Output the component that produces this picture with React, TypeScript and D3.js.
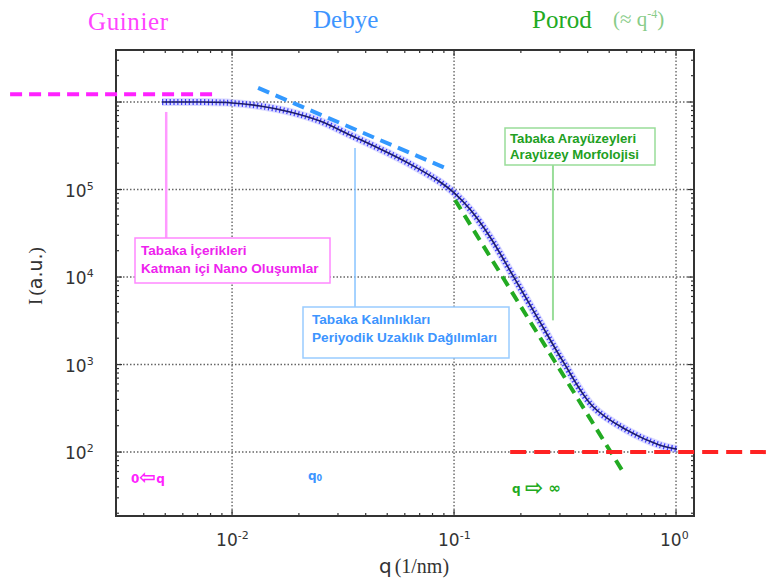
import React from "react";
import * as d3 from "d3";

// ---- data ----
const qData = [0.00484, 0.00717, 0.01, 0.01337, 0.01824, 0.0249, 0.034, 0.0465, 0.0634, 0.0865, 0.101, 0.118, 0.145, 0.1845, 0.244, 0.31, 0.423, 0.601, 0.847, 1.01];
const iData = [1.0e6, 1.0e6, 9.75e5, 9.0e5, 7.7e5, 6.06e5, 4.2e5, 2.9e5, 1.95e5, 1.22e5, 9.0e4, 5.94e4, 2.89e4, 1.03e4, 3.06e3, 1.08e3, 330, 178, 120, 108];

const qTicks = [0.01, 0.1, 1];
const qTickExp = ["-2", "-1", "0"];
const iTicks = [1e2, 1e3, 1e4, 1e5];
const iTickExp = ["2", "3", "4", "5"];
const iGrid = [1e2, 1e3, 1e4, 1e5, 1e6];

// reference lines [q0, I0, q1, I1]
const guinierLine = [0.001, 1.23e6, 0.00865, 1.23e6];
const debyeLine = [0.0131, 1.45e6, 0.0959, 1.67e5];
const porodLine = [0.101, 7.6e4, 0.589, 54.6];
const bgLine = [0.179, 100, 2.54, 100];

const W = 766, H = 581;
const L = 116, R = 694, T = 50, B = 516;

export default function App() {
  const x = d3.scaleLog().domain([0.003, 1.205]).range([L, R]);
  const y = d3.scaleLog().domain([18.6, 3.93e6]).range([B, T]);

  const pts = qData.map((q, i) => [x(q), y(iData[i])] as [number, number]);
  const line = d3.line().curve(d3.curveCatmullRom.alpha(0.5))(pts) || "";

  const xMinor: number[] = [];
  for (let e = -3; e <= 0; e++) for (let k = 1; k <= 9; k++) {
    const v = k * Math.pow(10, e);
    if (v >= 0.003 && v <= 1.205) xMinor.push(v);
  }
  const yMinor: number[] = [];
  for (let e = 1; e <= 6; e++) for (let k = 1; k <= 9; k++) {
    const v = k * Math.pow(10, e);
    if (v >= 18.6 && v <= 3.93e6) yMinor.push(v);
  }
  const isMajor = (v: number) => Math.abs(Math.log10(v) - Math.round(Math.log10(v))) < 1e-6;

  const seg = (a: number[]) => ({ x1: x(a[0]), y1: y(a[1]), x2: x(a[2]), y2: y(a[3]) });
  const axisCol = "#333";
  const sans = "'DejaVu Sans', sans-serif";
  const serif = "'Liberation Serif', 'DejaVu Serif', serif";
  const boxFont = "'Liberation Sans', Arial, sans-serif";

  return (
    <svg width={W} height={H} style={{ position: "absolute", left: 0, top: 0, background: "#fff" }}>
      {/* grid */}
      {qTicks.map((q) => (
        <line key={"gx" + q} x1={x(q)} x2={x(q)} y1={T} y2={B} stroke="#666" strokeWidth={1.4} strokeDasharray="1.5 2" />
      ))}
      {iGrid.map((v) => (
        <line key={"gy" + v} x1={L} x2={R} y1={y(v)} y2={y(v)} stroke="#666" strokeWidth={1.4} strokeDasharray="1.5 2" />
      ))}

      {/* ticks */}
      {xMinor.map((v) => {
        const len = isMajor(v) ? 6 : 3;
        return (
          <g key={"tx" + v}>
            <line x1={x(v)} x2={x(v)} y1={B} y2={B - len} stroke={axisCol} strokeWidth={1.2} />
            <line x1={x(v)} x2={x(v)} y1={T} y2={T + len} stroke={axisCol} strokeWidth={1.2} />
          </g>
        );
      })}
      {yMinor.map((v) => {
        const len = isMajor(v) ? 6 : 3;
        return (
          <g key={"ty" + v}>
            <line x1={L} x2={L + len} y1={y(v)} y2={y(v)} stroke={axisCol} strokeWidth={1.2} />
            <line x1={R} x2={R - len} y1={y(v)} y2={y(v)} stroke={axisCol} strokeWidth={1.2} />
          </g>
        );
      })}
      <rect x={L} y={T} width={R - L} height={B - T} fill="none" stroke={axisCol} strokeWidth={2} />

      {/* reference dashed lines */}
      <line {...seg(guinierLine)} stroke="#ff22ff" strokeWidth={4} strokeDasharray="12 7" />
      <line {...seg(debyeLine)} stroke="#3399ff" strokeWidth={4} strokeDasharray="12 7" />

      {/* curve */}
      <path d={line} fill="none" stroke="#b0b0ff" strokeWidth={8} strokeOpacity={0.45} />
      <path d={line} fill="none" stroke="#3a3aff" strokeWidth={6} strokeDasharray="1.2 2.6" />
      <path d={line} fill="none" stroke="#1c1c6a" strokeWidth={1.6} />

      <line {...seg(porodLine)} stroke="#22aa22" strokeWidth={4} strokeDasharray="11 7" />
      <line {...seg(bgLine)} stroke="#ff2222" strokeWidth={4} strokeDasharray="16 8" />

      {/* leader lines */}
      <line x1={x(0.00505)} x2={x(0.00505)} y1={y(7.7e5)} y2={238} stroke="#ff99ff" strokeWidth={2.5} />
      <line x1={x(0.0358)} x2={x(0.0358)} y1={y(2.98e5)} y2={307} stroke="#88c4ff" strokeWidth={1.5} />
      <line x1={x(0.279)} x2={x(0.279)} y1={165} y2={y(3.2e3)} stroke="#99dd99" strokeWidth={2} />

      {/* annotation boxes */}
      <rect x={135} y={238} width={195} height={45} fill="#fff" stroke="#ff88ff" strokeWidth={1.5} />
      <text x={141} y={255} fontFamily={boxFont} fontWeight="bold" fontSize={13.6} fill="#ee22ee">Tabaka İçerikleri</text>
      <text x={141} y={273} fontFamily={boxFont} fontWeight="bold" fontSize={13.6} fill="#ee22ee">Katman içi Nano Oluşumlar</text>

      <rect x={303} y={307} width={206} height={51} fill="#fff" stroke="#99ccff" strokeWidth={1.5} />
      <text x={312} y={324} fontFamily={boxFont} fontWeight="bold" fontSize={13.6} fill="#3d95ff">Tabaka Kalınlıkları</text>
      <text x={312} y={342} fontFamily={boxFont} fontWeight="bold" fontSize={13.6} fill="#3d95ff">Periyodik Uzaklık Dağılımları</text>

      <rect x={505} y={128} width={150} height={37} fill="#fff" stroke="#99dd99" strokeWidth={1.5} />
      <text x={510} y={143} fontFamily={boxFont} fontWeight="bold" fontSize={13.2} fill="#22a022">Tabaka Arayüzeyleri</text>
      <text x={510} y={159} fontFamily={boxFont} fontWeight="bold" fontSize={13.2} fill="#22a022">Arayüzey Morfolojisi</text>

      {/* regime headers */}
      <text x={88} y={30} fontFamily={serif} fontSize={25} fill="#ff44ff" textLength={80}>Guinier</text>
      <text x={313} y={28} fontFamily={serif} fontSize={25} fill="#3d95ff">Debye</text>
      <text x={532} y={28} fontFamily={serif} fontSize={25} fill="#22aa22">Porod</text>
      <text x={613} y={26} fontFamily={serif} fontSize={21} fill="#88cc88">
        (≈ q<tspan dy={-8} fontSize={12}>-4</tspan><tspan dy={8}>)</tspan>
      </text>

      {/* bottom notes */}
      <text x={131} y={483} fontFamily={sans} fontWeight="bold" fontSize={12} fill="#ff22ff">
        0<tspan fontSize={20} dy={1}>⇦</tspan><tspan dy={-1}>q</tspan>
      </text>
      <text x={308} y={480} fontFamily={sans} fontWeight="bold" fontSize={12} fill="#3d95ff">q<tspan fontSize={8} dy={1}>0</tspan></text>
      <text x={512} y={493} fontFamily={sans} fontWeight="bold" fontSize={12} fill="#22aa22">
        q <tspan fontSize={22} dy={2}>⇨</tspan><tspan fontSize={15} dy={-2}> ∞</tspan>
      </text>

      {/* tick labels */}
      {qTicks.map((q, i) => (
        <text key={"lx" + q} x={x(q) - 16} y={546} fontFamily={sans} fontSize={17} fill="#333">
          10<tspan dy={-7} fontSize={11}>{qTickExp[i]}</tspan>
        </text>
      ))}
      {iTicks.map((v, i) => (
        <text key={"ly" + v} x={65} y={y(v) + 7} fontFamily={sans} fontSize={17} fill="#333">
          10<tspan dy={-7} fontSize={11}>{iTickExp[i]}</tspan>
        </text>
      ))}

      {/* axis titles */}
      <text x={414} y={573} textAnchor="middle" fontSize={20} fill="#333">
        <tspan fontFamily={sans}>q</tspan>
        <tspan fontFamily={serif} dx={3}>(1/nm)</tspan>
      </text>
      <text transform={`translate(42, 276) rotate(-90)`} textAnchor="middle" fontSize={19} fill="#333">
        <tspan fontFamily={serif}>I</tspan>
        <tspan fontFamily={serif} dx={3}>(</tspan>
        <tspan fontFamily={sans}>a.u.</tspan>
        <tspan fontFamily={serif}>)</tspan>
      </text>
    </svg>
  );
}
